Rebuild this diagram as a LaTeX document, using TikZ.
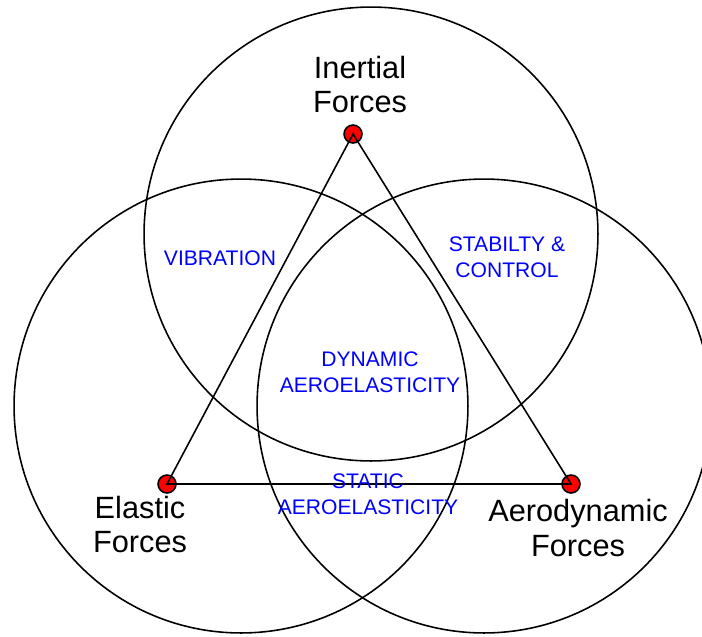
\documentclass[tikz,border=0pt]{standalone}
\usepackage{fontspec}
\setmainfont{Liberation Sans}
\usetikzlibrary{positioning}

\begin{document}
\begin{tikzpicture}[
  x=0.02cm, y=-0.02cm,
  ring/.style={circle, draw, line width=0.9pt,
    minimum size=9.08cm, inner sep=0pt},
  joint/.style={circle, draw, fill=red, line width=0.9pt,
    minimum size=0.36cm, inner sep=0pt},
  force/.style={align=center, font=\fontsize{17.5}{19.9}\selectfont},
  effect/.style={align=center, text=blue, font=\fontsize{12}{14.8}\selectfont},
  link/.style={line width=0.9pt}
]
\useasboundingbox (0,0) rectangle (702,636);

% the three force circles
\node[ring] (cInertial) at (371,234) {};
\node[ring] (cElastic)  at (241,406) {};
\node[ring] (cAero)     at (484,406) {};

% corners of the triangle
\node[joint] (pInertial) at (353,134) {};
\node[joint] (pElastic)  at (167,484) {};
\node[joint] (pAero)     at (571,484) {};

\draw[link] (pInertial.center) -- (pElastic.center) -- (pAero.center) -- cycle;

\node[force] (inertial) at (360,84.5) {Inertial\\Forces};
\node[force] (elastic)  at (140,524.5) {Elastic\\Forces};
\node[force] (aero)     at (578,528) {Aerodynamic\\Forces};

\node[effect] (vib)    at (220,258.5) {VIBRATION};
\node[effect] (stab)   at (507,257.5) {STABILTY \&\\CONTROL};
\node[effect] (dyn)    at (370,372.5) {DYNAMIC\\AEROELASTICITY};
\node[effect] (static) at (368,494) {STATIC\\AEROELASTICITY};
\end{tikzpicture}
\end{document}
